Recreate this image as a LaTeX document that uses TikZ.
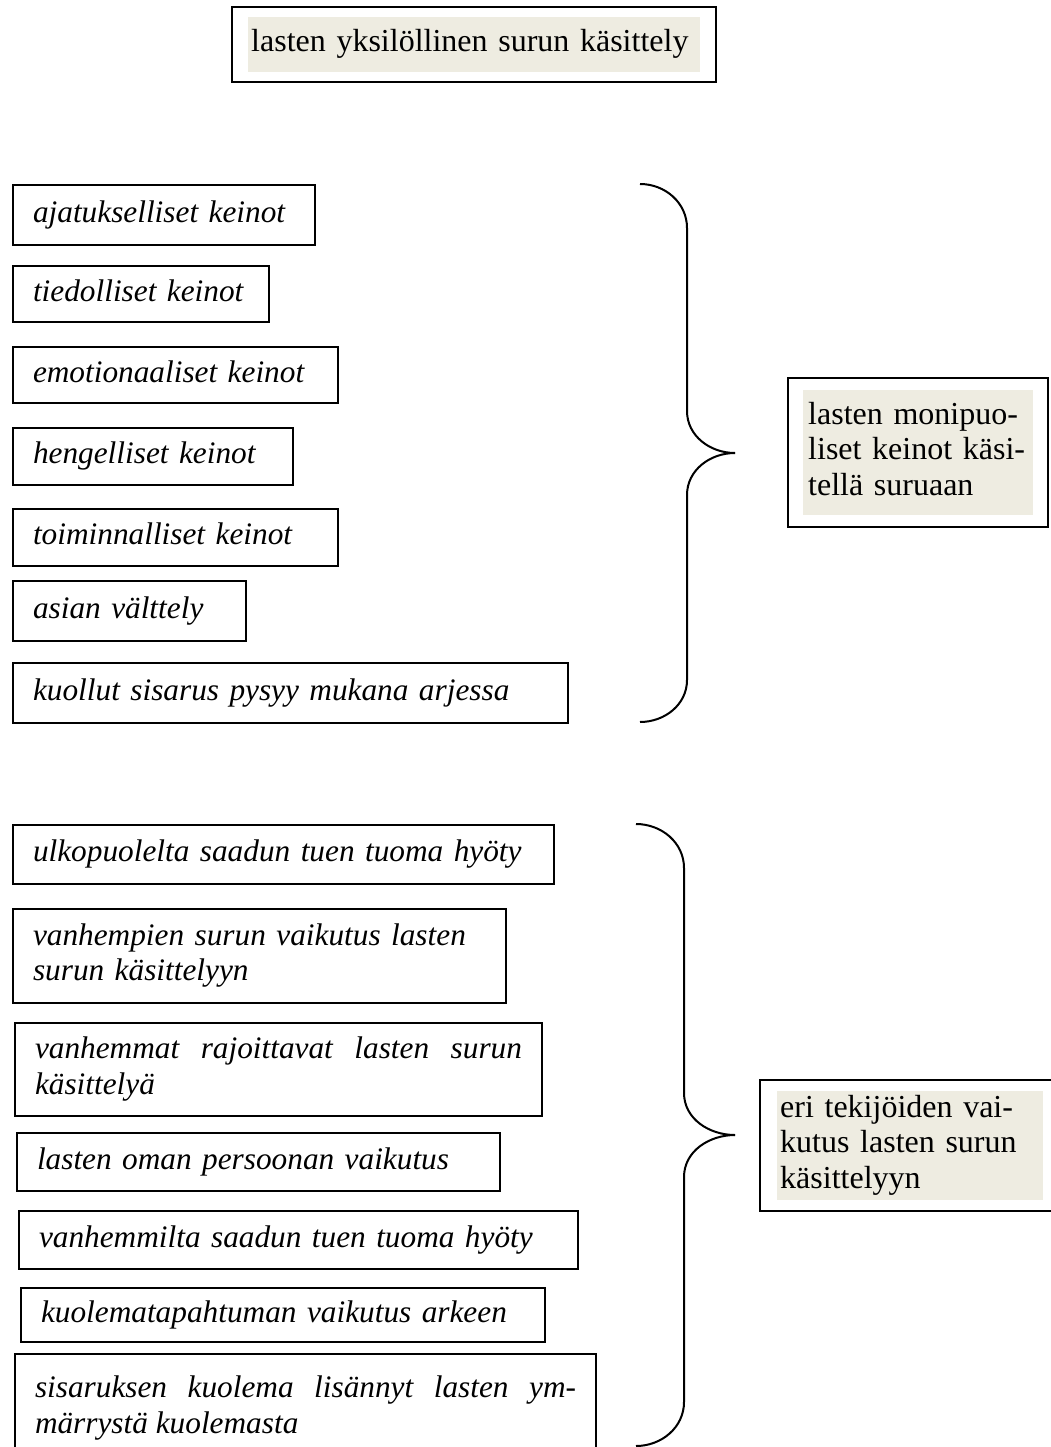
\documentclass[tikz,border=0pt]{standalone}
\usepackage{fontspec}
\setmainfont{Liberation Serif}
\usepackage{tikz}
\usetikzlibrary{fit}

\definecolor{varjo}{HTML}{EEECE1}
\newcommand{\isoteksti}{\fontsize{32}{35.5}\selectfont}
\newcommand{\listateksti}{\fontsize{31.3}{35.5}\selectfont\itshape}

\tikzset{
  lista/.style={draw, line width=2pt, anchor=north west, align=left,
    font=\listateksti, inner xsep=20pt, inner ysep=0pt,
    execute at begin node=\strut, execute at end node=\strut},
  tasattu/.style={lista, align=justify},
  varjostus/.style={fill=varjo, anchor=north west, align=left,
    font=\isoteksti, inner ysep=0pt,
    execute at begin node=\strut, execute at end node=\strut},
  kehys/.style={draw, line width=2pt},
  sulku/.style={line width=2pt}
}

\begin{document}
\begin{tikzpicture}[x=1pt, y=1pt]
\useasboundingbox (0,0) rectangle (1050,-1447);
% otsikko
\node[varjostus, inner xsep=3pt, text width=446pt, minimum height=55pt] (otsikko) at (248,-17) {lasten yksilöllinen surun käsittely};
\node[kehys, fit=(otsikko), inner xsep=16pt, inner ysep=10pt] (otsikkokehys) {};
% keinot
\node[lista, text width=262pt, minimum height=60pt] (keino1) at (12,-184) {ajatukselliset keinot};
\node[lista, text width=216pt, minimum height=56pt] (keino2) at (12,-265) {tiedolliset keinot};
\node[lista, text width=285pt, minimum height=56pt] (keino3) at (12,-346) {emotionaaliset keinot};
\node[lista, text width=240pt, minimum height=57pt] (keino4) at (12,-427) {hengelliset keinot};
\node[lista, text width=285pt, minimum height=57pt] (keino5) at (12,-508) {toiminnalliset keinot};
\node[lista, text width=193pt, minimum height=60pt] (keino6) at (12,-580) {asian välttely};
\node[lista, text width=515pt, minimum height=60pt] (keino7) at (12,-662) {kuollut sisarus pysyy mukana arjessa};
\draw[sulku] (640,-184) to[out=0, in=90] (687,-228) -- (687,-411) to[out=-90, in=180] (735,-453);
\draw[sulku] (735,-453) to[out=180, in=90] (687,-495) -- (687,-680) to[out=-90, in=0] (640,-722);
\node[varjostus, inner xsep=5pt, text width=220pt, minimum height=125pt] (keinot) at (803,-390) {lasten monipuo-\\liset keinot käsi-\\tellä suruaan};
\node[kehys, fit=(keinot), inner xsep=15pt, inner ysep=12pt] (keinotkehys) {};
% tekijat
\node[lista, text width=501pt, minimum height=59pt] (tekija1) at (12,-824) {ulkopuolelta saadun tuen tuoma hyöty};
\node[lista, text width=453pt, minimum height=94pt] (tekija2) at (12,-908) {vanhempien surun vaikutus lasten\\surun käsittelyyn};
\node[tasattu, text width=487pt, minimum height=93pt] (tekija3) at (14,-1022) {vanhemmat rajoittavat lasten surun\linebreak käsittelyä};
\node[lista, text width=443pt, minimum height=58pt] (tekija4) at (16,-1132) {lasten oman persoonan vaikutus};
\node[lista, text width=519pt, minimum height=58pt] (tekija5) at (18,-1210) {vanhemmilta saadun tuen tuoma hyöty};
\node[lista, text width=484pt, minimum height=54pt] (tekija6) at (20,-1287) {kuolematapahtuman vaikutus arkeen};
\node[tasattu, text width=541pt, minimum height=109pt] (tekija7) at (14,-1353) {sisaruksen kuolema lisännyt lasten ym-\linebreak märrystä kuolemasta};
\draw[sulku] (636,-824) to[out=0, in=90] (684,-868) -- (684,-1093) to[out=-90, in=180] (735,-1135);
\draw[sulku] (735,-1135) to[out=180, in=90] (684,-1177) -- (684,-1402) to[out=-90, in=0] (636,-1446);
\node[varjostus, inner xsep=3pt, text width=260pt, minimum height=109pt] (tekijat) at (777,-1091) {eri tekijöiden vai-\\kutus lasten surun\\käsittelyyn};
\node[kehys, fit=(tekijat), inner xsep=17pt, inner ysep=11pt] (tekijatkehys) {};
\end{tikzpicture}
\end{document}
